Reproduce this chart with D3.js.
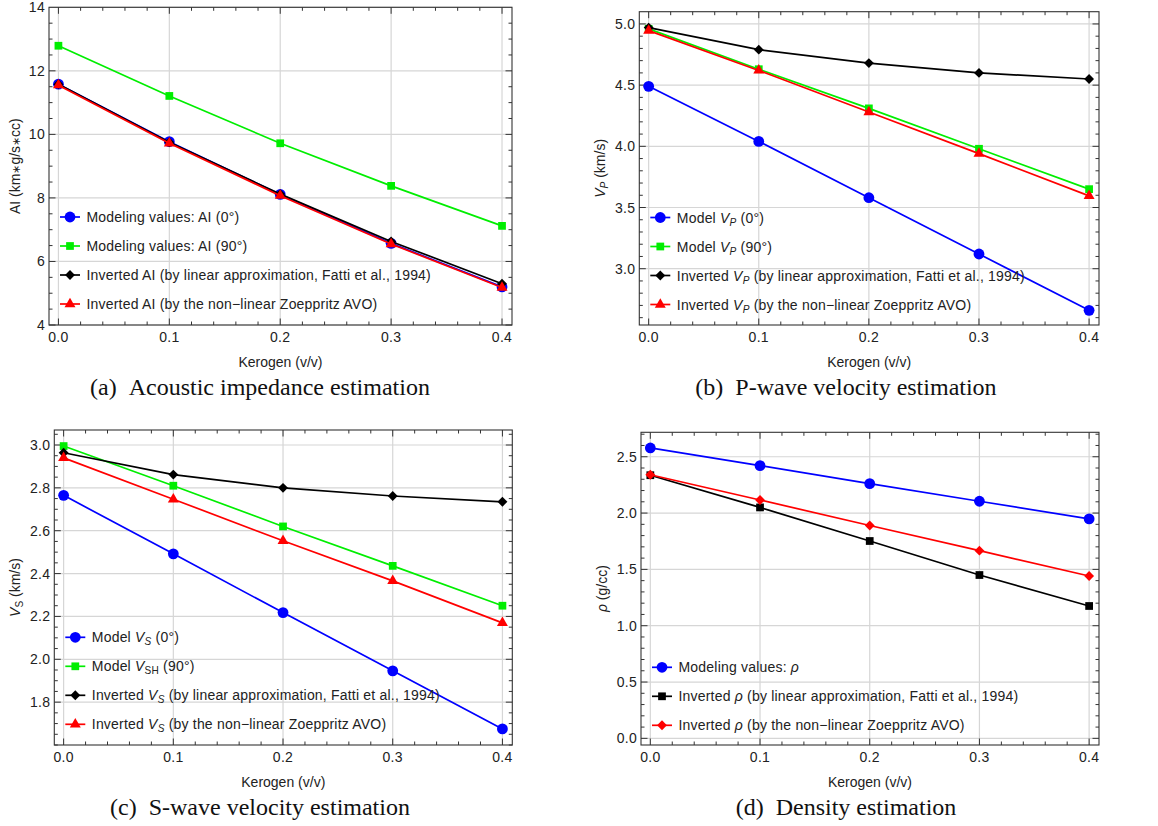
<!DOCTYPE html>
<html>
<head>
<meta charset="utf-8">
<script src="https://cdn.jsdelivr.net/npm/d3@7"></script>
<style>
  body { margin: 0; background: #fff; }
  svg { display: block; }
</style>
</head>
<body>
<script>
// Kerogen content (x) shared by every panel
const kerogen = [0, 0.1, 0.2, 0.3, 0.4];
const xTicks = [0, 0.1, 0.2, 0.3, 0.4];

// (a) Acoustic impedance
const aiModel0 = [11.58, 9.77, 8.11, 6.57, 5.2];
const aiModel90 = [12.79, 11.21, 9.72, 8.38, 7.12];
const aiLinear = [11.58, 9.75, 8.12, 6.63, 5.3];
const aiZoeppritz = [11.55, 9.72, 8.07, 6.55, 5.18];
const aiTicks = [4, 6, 8, 10, 12, 14];

// (b) P-wave velocity
const vpModel0 = [4.49, 4.04, 3.58, 3.12, 2.66];
const vpModel90 = [4.96, 4.63, 4.31, 3.98, 3.65];
const vpLinear = [4.97, 4.79, 4.68, 4.6, 4.55];
const vpZoeppritz = [4.945, 4.62, 4.28, 3.94, 3.595];
const vpTicks = [3.0, 3.5, 4.0, 4.5, 5.0];

// (c) S-wave velocity
const vsModel0 = [2.765, 2.492, 2.218, 1.946, 1.675];
const vsModel90 = [2.995, 2.81, 2.62, 2.436, 2.25];
const vsLinear = [2.964, 2.862, 2.8, 2.762, 2.735];
const vsZoeppritz = [2.94, 2.747, 2.553, 2.366, 2.17];
const vsTicks = [1.8, 2.0, 2.2, 2.4, 2.6, 2.8, 3.0];

// (d) Density
const rhoModel = [2.578, 2.421, 2.261, 2.105, 1.948];
const rhoLinear = [2.336, 2.05, 1.752, 1.45, 1.175];
const rhoZoeppritz = [2.34, 2.116, 1.89, 1.666, 1.441];
const rhoTicks = [0.0, 0.5, 1.0, 1.5, 2.0, 2.5];

const BLUE = '#0000ff';
const GREEN = '#00ee00';
const BLACK = '#000000';
const RED = '#ff0000';
const SANS = '"Liberation Sans", Arial, sans-serif';
const SERIF = '"Liberation Serif", "Times New Roman", serif';

const svg = d3.select('body').append('svg').attr('width', 1158).attr('height', 826);

// legend label pieces: [text, style] where style is '', 'i', 'sub', 'isub', 'small'
const panels = [
  {
    box: { left: 49, right: 512, top: 7.3, bottom: 325 },
    yDomain: [4, 14], yTicks: aiTicks, yMinor: 0.5, yFmt: d3.format('d'),
    yLabel: [['AI (km', ''], ['∗', 'small'], ['g/s', ''], ['∗', 'small'], ['cc)', '']], yLabelX: 15,
    caption: '(a)\u2002Acoustic impedance estimation', captionX: 260,
    series: [
      { values: aiModel0, color: BLUE, marker: 'circle', label: [['Modeling values: AI (0°)', '']] },
      { values: aiModel90, color: GREEN, marker: 'square', label: [['Modeling values: AI (90°)', '']] },
      { values: aiLinear, color: BLACK, marker: 'diamond', label: [['Inverted AI (by linear approximation, Fatti et al., 1994)', '']] },
      { values: aiZoeppritz, color: RED, marker: 'triangle', label: [['Inverted AI (by the non\u2212linear Zoeppritz AVO)', '']] }
    ],
    legendTop: 217
  },
  {
    box: { left: 639.3, right: 1099, top: 11.7, bottom: 325 },
    yDomain: [2.54, 5.1], yTicks: vpTicks, yMinor: 0.1, yFmt: d3.format('.1f'),
    yLabel: [['V', 'i'], ['P', 'isub'], [' (km/s)', '']], yLabelX: 600,
    caption: '(b)\u2002P-wave velocity estimation', captionX: 846,
    series: [
      { values: vpModel0, color: BLUE, marker: 'circle', label: [['Model ', ''], ['V', 'i'], ['P', 'isub'], [' (0°)', '']] },
      { values: vpModel90, color: GREEN, marker: 'square', label: [['Model ', ''], ['V', 'i'], ['P', 'isub'], [' (90°)', '']] },
      { values: vpLinear, color: BLACK, marker: 'diamond', label: [['Inverted ', ''], ['V', 'i'], ['P', 'isub'], [' (by linear approximation, Fatti et al., 1994)', '']] },
      { values: vpZoeppritz, color: RED, marker: 'triangle', label: [['Inverted ', ''], ['V', 'i'], ['P', 'isub'], [' (by the non\u2212linear Zoeppritz AVO)', '']] }
    ],
    legendTop: 217.5
  },
  {
    box: { left: 54.3, right: 512.3, top: 430, bottom: 745 },
    yDomain: [1.6, 3.07], yTicks: vsTicks, yMinor: 0.05, yFmt: d3.format('.1f'),
    yLabel: [['V', 'i'], ['S', 'sub'], [' (km/s)', '']], yLabelX: 15,
    caption: '(c)\u2002S-wave velocity estimation', captionX: 260,
    series: [
      { values: vsModel0, color: BLUE, marker: 'circle', label: [['Model ', ''], ['V', 'i'], ['S', 'isub'], [' (0°)', '']] },
      { values: vsModel90, color: GREEN, marker: 'square', label: [['Model ', ''], ['V', 'i'], ['SH', 'sub'], [' (90°)', '']] },
      { values: vsLinear, color: BLACK, marker: 'diamond', label: [['Inverted ', ''], ['V', 'i'], ['S', 'isub'], [' (by linear approximation, Fatti et al., 1994)', '']] },
      { values: vsZoeppritz, color: RED, marker: 'triangle', label: [['Inverted ', ''], ['V', 'i'], ['S', 'isub'], [' (by the non\u2212linear Zoeppritz AVO)', '']] }
    ],
    legendTop: 637.3
  },
  {
    box: { left: 641, right: 1099, top: 432.3, bottom: 745 },
    yDomain: [-0.059, 2.717], yTicks: rhoTicks, yMinor: 0.1, yFmt: d3.format('.1f'),
    yLabel: [['ρ', 'i'], [' (g/cc)', '']], yLabelX: 601.7,
    caption: '(d)\u2002Density estimation', captionX: 846,
    series: [
      { values: rhoModel, color: BLUE, marker: 'circle', label: [['Modeling values: ', ''], ['ρ', 'i']] },
      { values: rhoLinear, color: BLACK, marker: 'square', label: [['Inverted ', ''], ['ρ', 'i'], [' (by linear approximation, Fatti et al., 1994)', '']] },
      { values: rhoZoeppritz, color: RED, marker: 'diamond', label: [['Inverted ', ''], ['ρ', 'i'], [' (by the non\u2212linear Zoeppritz AVO)', '']] }
    ],
    legendTop: 667.3
  }
];

// marker symbols
const symbolFor = {
  circle: d3.symbol().type(d3.symbolCircle).size(Math.PI * 5.4 * 5.4),
  square: d3.symbol().type(d3.symbolSquare).size(60),
  diamond: d3.symbol().type(d3.symbolDiamond2).size(62),
  triangle: d3.symbol().type(d3.symbolTriangle).size(52)
};

function addRichText(sel, parts, size) {
  parts.forEach(([txt, st]) => {
    const t = sel.append('tspan').text(txt);
    if (st === 'i' || st === 'isub') t.attr('font-style', 'italic');
    if (st === 'sub' || st === 'isub') {
      t.attr('font-size', size * 0.72).attr('baseline-shift', '-28%');
    }
    if (st === 'small') t.attr('font-size', size * 0.75);
  });
}

function drawPanel(p) {
  const { left, right, top, bottom } = p.box;
  const x = d3.scaleLinear().domain([-0.0085, 0.409]).range([left, right]);
  const y = d3.scaleLinear().domain(p.yDomain).range([bottom, top]);
  const g = svg.append('g');

  // grid
  g.selectAll('.vgrid').data(xTicks).enter().append('line')
    .attr('x1', (d) => x(d)).attr('x2', (d) => x(d))
    .attr('y1', top).attr('y2', bottom)
    .attr('stroke', '#d6d6d6').attr('stroke-width', 1.2);
  g.selectAll('.hgrid').data(p.yTicks).enter().append('line')
    .attr('x1', left).attr('x2', right)
    .attr('y1', (d) => y(d)).attr('y2', (d) => y(d))
    .attr('stroke', '#d6d6d6').attr('stroke-width', 1.2);

  // inward ticks on every side
  const xMinor = d3.range(0, 0.4001, 0.02);
  const yMinor = d3.range(Math.ceil(p.yDomain[0] / p.yMinor) * p.yMinor, p.yDomain[1], p.yMinor);
  const tickG = g.append('g').attr('stroke', '#333').attr('stroke-width', 1);
  xMinor.forEach((v) => {
    const major = Math.abs(v * 10 - Math.round(v * 10)) < 1e-6;
    const len = major ? 6.5 : 3.5;
    tickG.append('line').attr('x1', x(v)).attr('x2', x(v)).attr('y1', bottom).attr('y2', bottom - len);
    tickG.append('line').attr('x1', x(v)).attr('x2', x(v)).attr('y1', top).attr('y2', top + len);
  });
  yMinor.forEach((v) => {
    const major = p.yTicks.some((t) => Math.abs(t - v) < 1e-6);
    const len = major ? 6.5 : 3.5;
    tickG.append('line').attr('y1', y(v)).attr('y2', y(v)).attr('x1', left).attr('x2', left + len);
    tickG.append('line').attr('y1', y(v)).attr('y2', y(v)).attr('x1', right).attr('x2', right - len);
  });

  // frame
  g.append('rect').attr('x', left).attr('y', top)
    .attr('width', right - left).attr('height', bottom - top)
    .attr('fill', 'none').attr('stroke', '#333').attr('stroke-width', 1.1);

  // tick labels
  g.selectAll('.xl').data(xTicks).enter().append('text')
    .attr('x', (d) => x(d)).attr('y', bottom + 17)
    .attr('text-anchor', 'middle')
    .attr('font-family', SANS).attr('font-size', 14).attr('fill', '#222')
    .attr('letter-spacing', 0.3)
    .text(d3.format('.1f'));
  g.selectAll('.yl').data(p.yTicks).enter().append('text')
    .attr('x', left - 4).attr('y', (d) => y(d) + 5)
    .attr('text-anchor', 'end')
    .attr('font-family', SANS).attr('font-size', 14).attr('fill', '#222')
    .attr('letter-spacing', 0.3)
    .text(p.yFmt);

  // axis titles
  g.append('text')
    .attr('x', (left + right) / 2).attr('y', bottom + 42)
    .attr('text-anchor', 'middle')
    .attr('font-family', SANS).attr('font-size', 14).attr('fill', '#222')
    .text('Kerogen (v/v)');
  const yl = g.append('text')
    .attr('transform', `translate(${p.yLabelX + 5},${(top + bottom) / 2}) rotate(-90)`)
    .attr('text-anchor', 'middle')
    .attr('font-family', SANS).attr('font-size', 14).attr('fill', '#222');
  addRichText(yl, p.yLabel, 14);

  // caption
  g.append('text')
    .attr('x', p.captionX).attr('y', bottom + 70)
    .attr('text-anchor', 'middle')
    .attr('font-family', SERIF).attr('font-size', 24).attr('fill', '#111')
    .text(p.caption);

  // series
  const line = d3.line().x((d, i) => x(kerogen[i])).y((d) => y(d));
  p.series.forEach((s) => {
    g.append('path').datum(s.values)
      .attr('d', line)
      .attr('fill', 'none').attr('stroke', s.color).attr('stroke-width', 1.7);
    g.selectAll(null).data(s.values).enter().append('path')
      .attr('d', symbolFor[s.marker])
      .attr('transform', (d, i) => `translate(${x(kerogen[i])},${y(d)})`)
      .attr('fill', s.color);
  });

  // legend
  const lg = g.append('g');
  p.series.forEach((s, i) => {
    const ly = p.legendTop + i * 29;
    lg.append('line')
      .attr('x1', left + 11).attr('x2', left + 31).attr('y1', ly).attr('y2', ly)
      .attr('stroke', s.color).attr('stroke-width', 1.7);
    lg.append('path').attr('d', symbolFor[s.marker])
      .attr('transform', `translate(${left + 21},${ly})`)
      .attr('fill', s.color);
    const t = lg.append('text')
      .attr('x', left + 37.5).attr('y', ly + 5)
      .attr('font-family', SANS).attr('font-size', 14).attr('fill', '#222')
      .attr('letter-spacing', 0.2);
    addRichText(t, s.label, 14);
  });
}

panels.forEach(drawPanel);
</script>
</body>
</html>
